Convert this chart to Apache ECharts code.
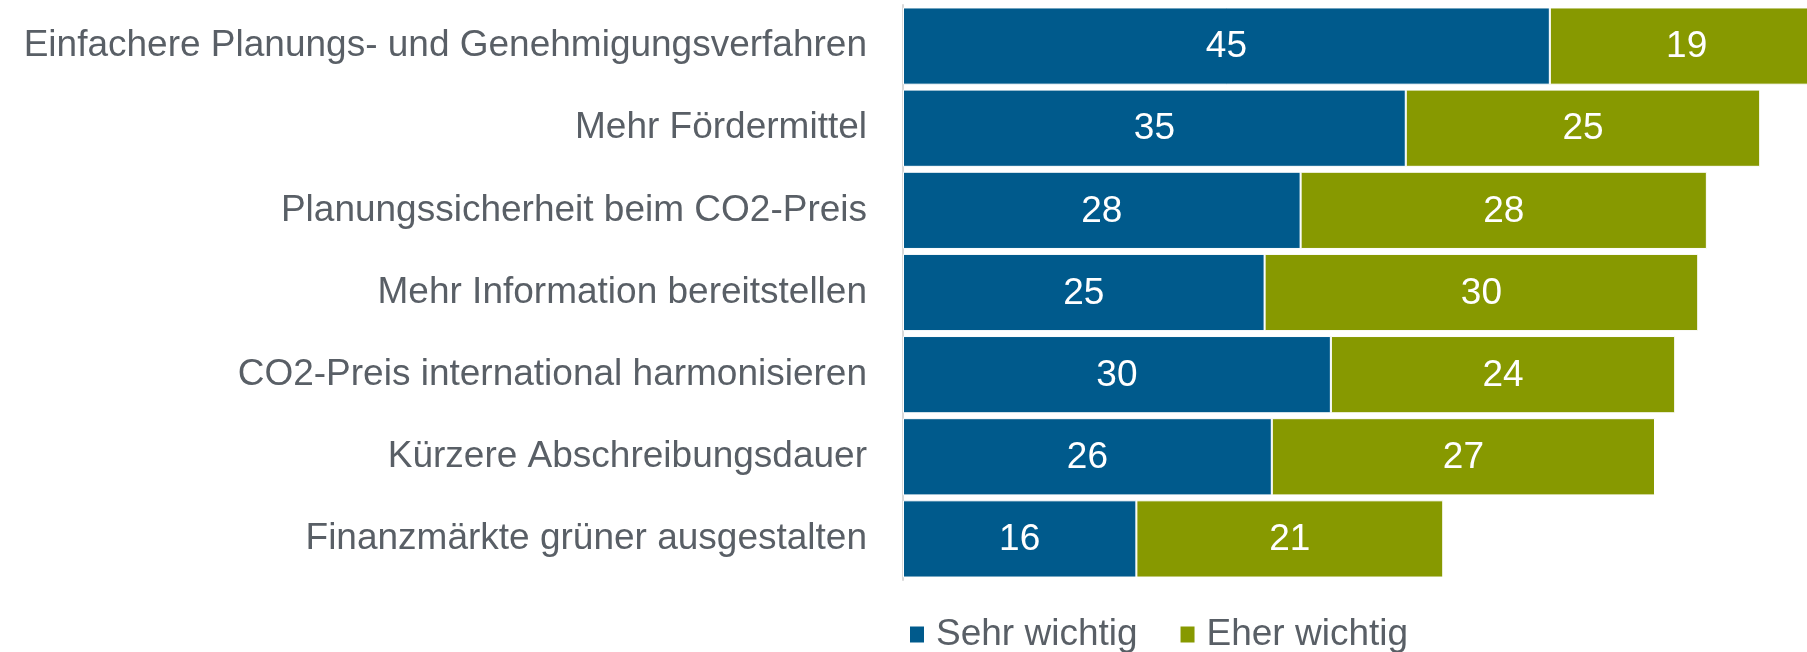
<!DOCTYPE html>
<html>
<head>
<meta charset="utf-8">
<script src="https://cdn.jsdelivr.net/npm/echarts@6/dist/echarts.min.js"></script>
<style>
  html, body { margin: 0; padding: 0; background: #fff; }
  #chart { width: 1807px; height: 652px; }
</style>
</head>
<body>
<div id="chart"></div>
<script>
// Kategorien (von oben nach unten)
var categories = [
  'Einfachere Planungs- und Genehmigungsverfahren',
  'Mehr Fördermittel',
  'Planungssicherheit beim CO2-Preis',
  'Mehr Information bereitstellen',
  'CO2-Preis international harmonisieren',
  'Kürzere Abschreibungsdauer',
  'Finanzmärkte grüner ausgestalten'
]
// Werte aus der Balkenlänge geschätzt, Beschriftung gerundet
var sehrWichtig = [44.9, 34.9, 27.6, 25.1, 29.7, 25.6, 16.2]
var eherWichtig = [19.0, 24.6, 28.2, 30.1, 23.9, 26.6, 21.3]
var seriesNames = ['Sehr wichtig', 'Eher wichtig']

var font = 'Liberation Sans, Arial, sans-serif'
var textGrey = '#595f66'

var chart = echarts.init(document.getElementById('chart'))

function barSeries(name, data, color) {
  return {
    name: name,
    type: 'bar',
    stack: 'total',
    data: data,
    barCategoryGap: '6%',
    itemStyle: {
      color: color,
      borderColor: '#ffffff',
      borderWidth: 1
    },
    label: {
      show: true,
      position: 'inside',
      color: '#ffffff',
      fontSize: 37,
      fontFamily: font,
      offset: [0, 1],
      formatter: function(p) {
        return Math.round(p.value)
      }
    }
  }
}

var option = {
  animation: false,
  // rechter Rand negativ: der oberste Balken läuft über den Bildrand hinaus
  grid: { left: 903, right: -18, top: 5, bottom: 72, outerBoundsMode: 'none' },
  legend: {
    data: seriesNames,
    left: 908,
    top: 616,
    padding: 0,
    icon: 'rect',
    itemWidth: 16,
    itemHeight: 18,
    itemGap: 41,
    textStyle: {
      color: textGrey,
      fontSize: 37,
      fontFamily: font,
      lineHeight: 36,
      padding: [0, 0, 0, 6]
    }
  },
  xAxis: {
    type: 'value',
    min: 0,
    max: 64,
    show: false
  },
  yAxis: {
    type: 'category',
    data: categories,
    inverse: true,
    axisTick: { show: false },
    axisLine: { lineStyle: { color: '#d9d9d9', width: 2 } },
    axisLabel: {
      color: textGrey,
      fontSize: 37,
      fontFamily: font,
      margin: 36
    }
  },
  series: [
    barSeries(seriesNames[0], sehrWichtig, '#005a8c'),
    barSeries(seriesNames[1], eherWichtig, '#879900')
  ]
}

chart.setOption(option)
</script>
</body>
</html>
